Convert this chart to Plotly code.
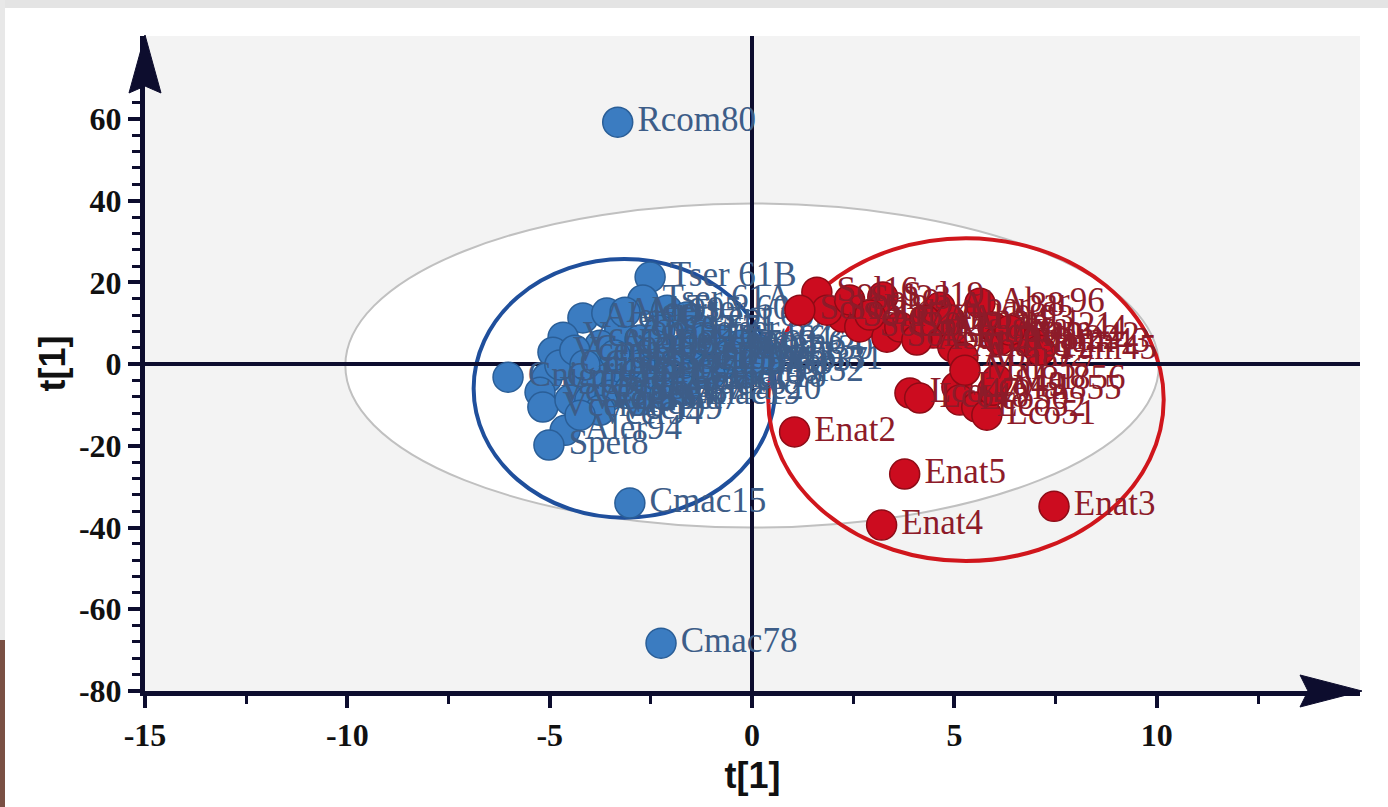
import plotly.graph_objects as go

# ---- score values: group 1 (blue) ----
blue_names = [
    "Rcom80", "Tser 61B", "Tser 61A", "Aler90", "Aler91", "Vcer90", "Vcer93", "Cnig11",
    "Cnig12", "Vcer95", "Vcer96", "Aler94", "Spet8", "Cmac15", "Cmac78", "Tser 60",
    "Lept 60", "Aler92", "Aler93", "Spet70", "Spet71", "Tser 62", "Tser 63", "Tser 64",
    "Ptor30", "Ptor31", "Pnol32", "Ptor33", "Ptor34", "Lept 62", "Spet73", "Spet74",
    "Spet75", "Cnig13", "Cnig14", "Vcer97", "Vcer98", "Spet76", "Spet77", "Cmac16",
    "Cmac17", "Cmac18", "Ptor35", "Spet7", "Vcer99", "Vcer94", "Cnig15", "Cnig16",
    "Aler95", "Lept 63", "Ptor36", "Ptor37", "Lept 64", "Lept 65", "Spet78", "Cnig17",
    "Cmac19", "Cmac20",
]
blue_x = [
    -3.32, -2.52, -2.70, -4.18, -3.59, -4.67, -4.92, -6.03,
    -5.07, -5.24, -5.17, -4.62, -5.02, -3.02, -2.25, -2.10,
    -1.61, -3.27, -3.76, -2.77, -2.28, -1.29, -0.80, -0.30,
    0.19, 0.44, -0.18, -0.80, -1.29, -1.78, -2.28, -2.77,
    -3.27, -3.76, -4.25, -4.50, -4.01, -3.51, -3.02, -2.53,
    -2.03, -1.54, -1.04, -2.77, -3.76, -4.25, -4.75, -4.38,
    -3.14, -1.54, -0.55, 0.07, -1.17, -2.40, -3.39, -4.13,
    -2.16, -1.66,
]
blue_y = [
    59.2, 21.3, 15.7, 11.3, 12.5, 6.6, 2.9, -3.2,
    -3.4, -6.9, -10.5, -16.2, -19.8, -34.0, -68.3, 13.2,
    11.5, 8.3, 4.6, 5.9, 8.3, 8.3, 5.9, 4.6,
    3.4, 1.0, -2.0, -0.2, 1.0, 3.4, 1.0, -0.2,
    -1.5, -2.7, -5.1, -8.8, -8.8, -7.6, -6.4, -5.1,
    -3.9, -3.4, -2.7, -8.8, -11.3, -12.5, -0.2, 3.4,
    12.7, 4.6, 2.2, 0.5, 5.9, 4.6, 2.2, -0.2,
    -7.6, -6.4,
]

# ---- score values: group 2 (red) ----
red_names = [
    "Enat2", "Enat5", "Enat4", "Enat3", "Sol19", "Sol16", "Sol17", "Sol18",
    "Sol20", "Sol21", "Sol22", "Abar88", "Abar89", "Abar90", "Abar91", "Abar92",
    "Abar96", "Aval21", "Aval22", "Pam42", "Pam43", "Lco47", "Lco48", "Lco49",
    "Lco50", "Lco52", "Lco51", "Mal855", "Mal856", "Sol23", "Sol24", "Abar93",
    "Pam44", "Pam45", "Mal857", "Abar94", "Sol15",
]
red_x = [
    1.05, 3.77, 3.20, 7.46, 3.23, 1.60, 2.24, 1.85,
    2.66, 3.33, 3.65, 4.64, 4.47, 4.07, 4.96, 5.21,
    5.63, 5.95, 6.12, 6.69, 6.94, 3.90, 4.14, 5.06,
    5.13, 5.55, 5.80, 5.95, 6.05, 2.41, 2.91, 4.88,
    6.37, 7.11, 5.26, 4.27, 1.18,
]
red_y = [
    -16.6, -26.9, -39.4, -34.8, 16.4, 17.6, 11.5, 13.2,
    9.1, 6.6, 9.1, 13.9, 7.6, 5.9, 4.2, 1.7,
    14.9, 9.1, 5.9, 6.6, 5.1, -7.1, -8.3, -5.6,
    -8.8, -10.5, -12.5, -6.4, -3.9, 15.7, 12.0, 10.8,
    8.3, 3.4, -1.5, 10.8, 13.2,
]

# ---- axes ----
x_ticks = [-15, -10, -5, 0, 5, 10]
x_minor = [-12.5, -7.5, -2.5, 2.5, 7.5, 12.5]
y_ticks = [-80, -60, -40, -20, 0, 20, 40, 60]
y_minor = [v for v in range(-76, 65, 4) if v % 20 != 0]

# ---- confidence ellipses: (x0, x1, y0, y1) ----
hotelling = (-10.05, 10.05, -40.0, 39.3)
blue_ellipse = (-6.88, 0.57, -37.6, 25.7)
red_ellipse = (0.40, 10.17, -48.2, 30.8)

W, H = 1388, 807
L, R, T, B = 145, 28, 36, 116
AXIS = "#0d0d2e"


def paper(px, py):
    """pixel position on the page -> paper coordinates"""
    return (px - L) / (W - L - R), (H - B - py) / (H - T - B)


def path(points):
    pts = [paper(*p) for p in points]
    return "M " + " L ".join(f"{x:.5f},{y:.5f}" for x, y in pts) + " Z"


fig = go.Figure()

fig.add_trace(go.Scatter(
    x=blue_x, y=blue_y, text=blue_names, mode="markers+text",
    textposition="middle right",
    marker=dict(size=30, color="#3b7cc1", line=dict(color="#2a5e97", width=1.5)),
    textfont=dict(family="Liberation Serif", size=35, color="#3d5d88"),
    cliponaxis=False, showlegend=False,
))
fig.add_trace(go.Scatter(
    x=red_x, y=red_y, text=red_names, mode="markers+text",
    textposition="middle right",
    marker=dict(size=30, color="#cc0c1f", line=dict(color="#8e0b16", width=1.5)),
    textfont=dict(family="Liberation Serif", size=35, color="#8d1b29"),
    cliponaxis=False, showlegend=False,
))

shapes = []
# Hotelling T2 ellipse (white inside)
x0, x1, y0, y1 = hotelling
shapes.append(dict(type="circle", xref="x", yref="y", x0=x0, x1=x1, y0=y0, y1=y1,
                   fillcolor="white", line=dict(color="#c0c0c0", width=2), layer="below"))
for (x0, x1, y0, y1), col in [(blue_ellipse, "#1f4f9c"), (red_ellipse, "#d0161c")]:
    shapes.append(dict(type="circle", xref="x", yref="y", x0=x0, x1=x1, y0=y0, y1=y1,
                       line=dict(color=col, width=4), layer="below"))

# arrow heads at the ends of the axes
shapes.append(dict(type="path", xref="paper", yref="paper", layer="above",
                   path=path([(145, 35), (161, 93), (145, 86), (129, 93)]),
                   fillcolor=AXIS, line=dict(color=AXIS, width=1)))
shapes.append(dict(type="path", xref="paper", yref="paper", layer="above",
                   path=path([(1362, 691), (1300, 707), (1308, 691), (1300, 675)]),
                   fillcolor=AXIS, line=dict(color=AXIS, width=1)))

# page edges
for (px0, py0, px1, py1), col in [((0, 0, W, 8), "#e4e4e4"),
                                   ((0, 0, 5, 640), "#e8e8e8"),
                                   ((0, 640, 5, H), "#7a5044")]:
    a0, b0 = paper(px0, py0)
    a1, b1 = paper(px1, py1)
    shapes.append(dict(type="rect", xref="paper", yref="paper", x0=a0, x1=a1, y0=b1, y1=b0,
                       fillcolor=col, line=dict(width=0), layer="above"))

tickfont = dict(family="Liberation Serif", size=32, color="#111111", weight="bold")
titlefont = dict(family="Liberation Sans", size=36, color="#111111", weight="bold")
common = dict(showgrid=False, zeroline=True, zerolinecolor=AXIS, zerolinewidth=4,
              showline=True, linecolor=AXIS, linewidth=5,
              ticks="outside", ticklen=12, tickwidth=4, tickcolor=AXIS,
              tickfont=tickfont, tickmode="array")

fig.update_layout(
    width=W, height=H,
    margin=dict(l=L, r=R, t=T, b=B, pad=0),
    paper_bgcolor="white", plot_bgcolor="#f3f3f3",
    shapes=shapes,
    xaxis=dict(range=[-15, 15.02], tickvals=x_ticks, ticktext=[str(v) for v in x_ticks],
               minor=dict(tickmode="array", tickvals=x_minor, ticks="outside",
                          ticklen=8, tickwidth=3, tickcolor=AXIS),
               title=dict(text="t[1]", font=titlefont, standoff=12), **common),
    yaxis=dict(range=[-80, 80.3], tickvals=y_ticks, ticktext=[str(v) for v in y_ticks],
               minor=dict(tickmode="array", tickvals=y_minor, ticks="outside",
                          ticklen=8, tickwidth=3, tickcolor=AXIS),
               title=dict(text="t[1]", font=titlefont, standoff=4), **common),
)

fig.write_html("out.html")
